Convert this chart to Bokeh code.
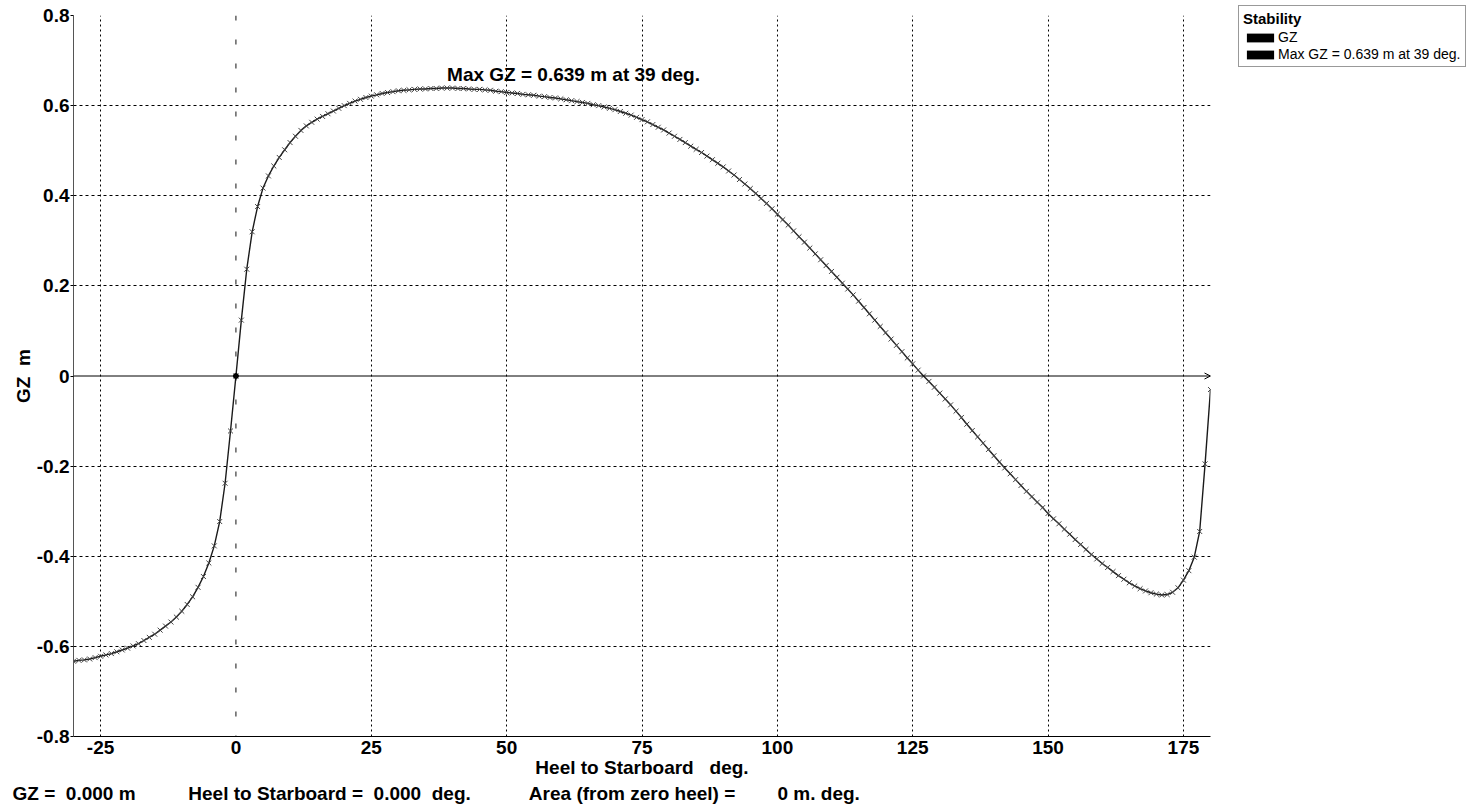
from bokeh.plotting import figure
from bokeh.models import (Range1d, FixedTicker, Span, Arrow, OpenHead, Label,
                          Legend, LegendItem, ColumnDataSource, Title)
from bokeh.embed import file_html
from bokeh.resources import INLINE

# ---------------- data ----------------
heel = list(range(-30, 181))
gz = [
    -0.633, -0.631, -0.630, -0.628, -0.625, -0.622, -0.619, -0.616, -0.612, -0.608,
    -0.604, -0.599, -0.594, -0.587, -0.580, -0.573, -0.564, -0.555, -0.546, -0.535,
    -0.522, -0.507, -0.490, -0.469, -0.445, -0.415, -0.377, -0.323, -0.238, -0.122,
    0.000,
    0.124, 0.237, 0.320, 0.376, 0.417, 0.444, 0.466, 0.485, 0.502, 0.518,
    0.532, 0.545, 0.555, 0.563, 0.570, 0.576, 0.582, 0.588, 0.594, 0.600,
    0.605, 0.610, 0.614, 0.618, 0.621, 0.624, 0.627, 0.629, 0.631, 0.633,
    0.634, 0.635, 0.636, 0.637, 0.637, 0.638, 0.638, 0.639, 0.639, 0.639,
    0.638, 0.638, 0.637, 0.636, 0.636, 0.635, 0.634, 0.632, 0.631, 0.629,
    0.628, 0.627, 0.625, 0.624, 0.623, 0.621, 0.620, 0.618, 0.617, 0.615,
    0.613, 0.611, 0.609, 0.607, 0.605, 0.602, 0.600, 0.597, 0.594, 0.591,
    0.587, 0.583, 0.579, 0.574, 0.569, 0.564, 0.558, 0.552, 0.546, 0.539,
    0.532, 0.525, 0.518, 0.510, 0.503, 0.496, 0.488, 0.480, 0.472, 0.464,
    0.455, 0.446, 0.436, 0.426, 0.416, 0.405, 0.394, 0.383, 0.371, 0.359,
    0.347, 0.335, 0.322, 0.309, 0.297, 0.284, 0.271, 0.258, 0.245, 0.232,
    0.219, 0.206, 0.193, 0.180, 0.166, 0.152, 0.138, 0.124, 0.110, 0.096,
    0.082, 0.068, 0.054, 0.040, 0.027, 0.013, 0.000, -0.012, -0.025, -0.038,
    -0.051, -0.064, -0.078, -0.092, -0.107, -0.121, -0.135, -0.149, -0.163, -0.177,
    -0.191, -0.204, -0.217, -0.230, -0.243, -0.256, -0.268, -0.280, -0.292, -0.305,
    -0.317, -0.328, -0.340, -0.351, -0.363, -0.374, -0.385, -0.396, -0.406, -0.416,
    -0.425, -0.434, -0.443, -0.451, -0.459, -0.466, -0.472, -0.477, -0.481, -0.484,
    -0.486, -0.485, -0.480, -0.470, -0.453, -0.432, -0.402, -0.345, -0.195, -0.030,
]

x_ticks = [-25, 0, 25, 50, 75, 100, 125, 150, 175]
x_tick_labels = ["-25", "0", "25", "50", "75", "100", "125", "150", "175"]
y_ticks = [-0.8, -0.6, -0.4, -0.2, 0.0, 0.2, 0.4, 0.6, 0.8]
y_tick_labels = ["-0.8", "-0.6", "-0.4", "-0.2", "0", "0.2", "0.4", "0.6", "0.8"]
x_min, x_max = -30, 180
y_min, y_max = -0.8, 0.8

max_gz = 0.639
max_heel = 39
legend_title = "Stability"
series_name = "GZ"
max_text = f"Max GZ = {max_gz:.3f} m at {max_heel} deg."

status_gz = "0.000"
status_heel = "0.000"
status_area = "0"

FONT = "Liberation Sans"
NB = "\u00a0"

# ---------------- figure ----------------
p = figure(frame_width=1137, frame_height=721, output_backend="svg",
           toolbar_location=None,
           x_range=Range1d(x_min, x_max), y_range=Range1d(y_min, y_max),
           min_border_left=73, min_border_right=265, min_border_top=15,
           min_border_bottom=72)
p.outline_line_color = None
p.background_fill_color = "white"
p.border_fill_color = "white"

# axes
p.xaxis.ticker = FixedTicker(ticks=x_ticks)
p.xaxis.major_label_overrides = dict(zip(x_ticks, x_tick_labels))
p.yaxis.ticker = FixedTicker(ticks=y_ticks)
p.yaxis.major_label_overrides = dict(zip(y_ticks, y_tick_labels))
for ax in (p.xaxis[0], p.yaxis[0]):
    ax.major_label_text_font = FONT
    ax.major_label_text_font_style = "bold"
    ax.major_label_text_font_size = "19px"
    ax.major_label_text_color = "black"
    ax.axis_label_text_font = FONT
    ax.axis_label_text_font_style = "bold"
    ax.axis_label_text_font_size = "19px"
    ax.axis_label_text_color = "black"
    ax.minor_tick_line_color = None
p.xaxis.major_tick_out = 0
p.xaxis.major_tick_in = 0
p.xaxis.major_label_standoff = 4
p.xaxis.axis_label = f"Heel to Starboard{NB}{NB} deg."
p.xaxis.axis_label_standoff = 0
p.xaxis.axis_line_color = "black"
p.yaxis.major_tick_out = 3
p.yaxis.major_tick_in = 0
p.yaxis.major_tick_line_color = "black"
p.yaxis.major_label_standoff = 1
p.yaxis.axis_label = f"GZ{NB} m"
p.yaxis.axis_label_standoff = 0
p.yaxis.axis_line_color = "#555555"

# grids
p.xgrid.ticker = FixedTicker(ticks=[t for t in x_ticks if t != 0])
p.xgrid.grid_line_color = "black"
p.xgrid.grid_line_dash = "2 3"
p.xgrid.grid_line_width = 1
p.ygrid.ticker = FixedTicker(ticks=[t for t in y_ticks if t not in (0.0, y_min)])
p.ygrid.grid_line_color = "black"
p.ygrid.grid_line_dash = "3 3"
p.ygrid.grid_line_width = 1

# zero heel line and zero GZ arrow line
p.add_layout(Span(location=0, dimension="height", line_color="#111111",
                  line_dash="5 19", line_width=1))
p.add_layout(Arrow(x_start=x_min, y_start=0, x_end=x_max, y_end=0,
                   line_color="black", line_width=1,
                   end=OpenHead(size=6, line_color="black", line_width=1)))

# curve
src = ColumnDataSource(dict(heel=heel, gz=gz))
p.line("heel", "gz", source=src, line_color="#1a1a1a", line_width=1.4)
p.scatter("heel", "gz", source=src, marker="x", size=7, line_color="#444444",
          line_width=1)
zi = heel.index(0)
p.scatter([heel[zi]], [gz[zi]], marker="circle", size=5, fill_color="black",
          line_color="black")

# max label
p.add_layout(Label(x=max_heel, y=max_gz, y_offset=14, text=max_text,
                   text_font=FONT, text_font_style="bold",
                   text_font_size="19px", text_color="black",
                   text_baseline="alphabetic", text_align="left"))

# legend (black swatches), outside the frame on the right
# zero-size rects (invisible on the chart) only provide the black legend swatches
r1 = p.rect(x=[max_heel], y=[max_gz], width=0, height=0, fill_color="black",
            line_color=None)
r2 = p.rect(x=[max_heel], y=[max_gz], width=0, height=0, fill_color="black",
            line_color=None)
legend = Legend(items=[LegendItem(label=series_name, renderers=[r1]),
                       LegendItem(label=max_text, renderers=[r2])],
                location=(28, 669), title=legend_title,
                title_text_font=FONT, title_text_font_style="bold",
                title_text_font_size="15px", title_text_color="black",
                title_standoff=2,
                label_text_font=FONT, label_text_font_size="14px",
                label_text_color="black",
                label_height=15, label_standoff=1,
                glyph_width=34, glyph_height=11, spacing=1, padding=4, margin=0,
                border_line_color="#333333", border_line_width=1,
                background_fill_color="white", background_fill_alpha=1)
p.add_layout(legend, "right")

# status line below the chart
status_text = (f"GZ ={NB} {status_gz} m" + NB * 10 +
               f"Heel to Starboard ={NB} {status_heel}{NB} deg." + NB * 11 +
               "Area (from zero heel) =" + NB * 8 +
               f"{status_area} m. deg.")
p.add_layout(Title(text=status_text, align="left", offset=-61, standoff=0,
                   text_font=FONT, text_font_style="bold",
                   text_font_size="19px", text_color="black"), "below")

open("out.html", "w").write(file_html(p, INLINE))
